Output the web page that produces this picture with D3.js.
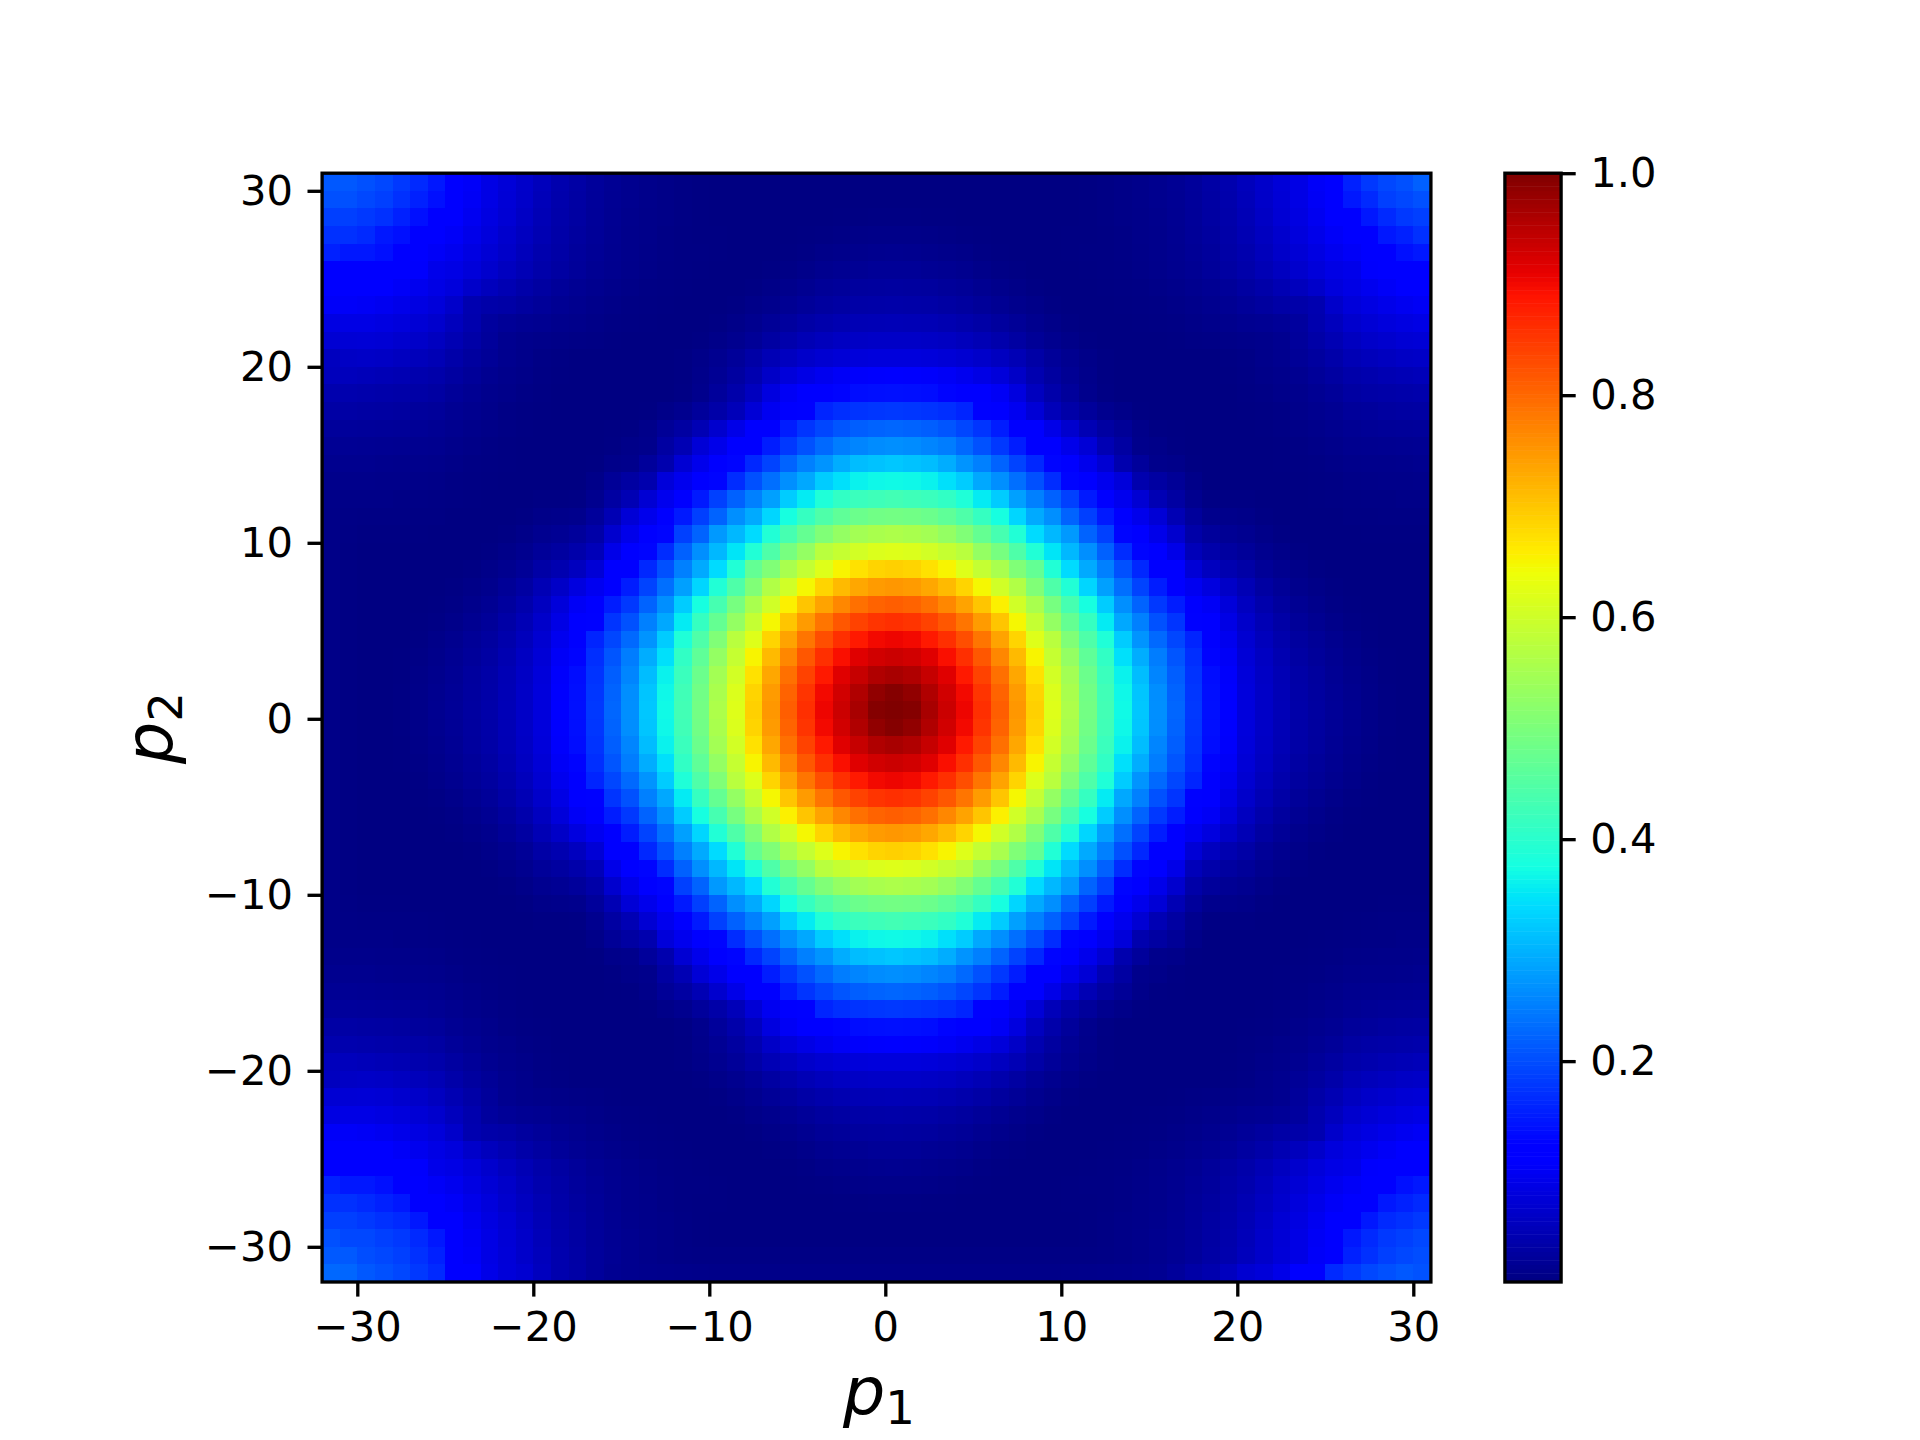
<!DOCTYPE html>
<html>
<head>
<meta charset="utf-8">
<script src="https://cdn.jsdelivr.net/npm/d3@7"></script>
<style>
  html, body { margin: 0; padding: 0; background: #fff; }
  text { font-family: "DejaVu Sans", sans-serif; fill: #000; }
</style>
</head>
<body>
<svg id="chart" width="1920" height="1440"></svg>
<script>
// tick labels
var p1Ticks = [-30, -20, -10, 0, 10, 20, 30]
var p2Ticks = [-30, -20, -10, 0, 10, 20, 30]
var barTicks = [0.2, 0.4, 0.6, 0.8, 1.0]

// first cell edge of each axis, cells are one unit wide
var p1Start = -32
var p2Top = 30

// intensity in thousandths
// each row runs p1 = -32 ... 30, first row is p2 = 30, last row is p2 = -32
var intensity = [
[211,211,203,195,180,165,148,116,105,88,76,64,52,40,32,24,18,13,10,7,5,3,2,2,2,2,2,2,2,2,2,2,2,2,2,2,2,2,2,2,2,2,2,3,5,7,10,13,18,24,32,40,52,64,76,88,105,116,156,180,195,203,219],
[203,203,195,187,172,156,140,114,102,88,75,63,50,38,31,23,17,13,10,7,5,3,2,2,2,2,2,2,2,2,2,2,2,2,2,2,2,2,2,2,2,2,2,3,5,7,10,13,17,23,31,38,50,63,75,88,102,114,148,165,187,195,203],
[187,187,180,172,156,140,120,110,98,84,73,60,47,37,30,22,16,12,9,7,5,3,2,2,2,2,2,2,2,3,3,4,4,4,3,3,2,2,2,2,2,2,2,3,5,7,9,12,16,22,30,37,47,60,73,84,98,110,120,148,165,180,187],
[172,172,165,148,140,118,116,104,92,80,67,56,44,35,27,21,15,11,9,6,4,3,3,2,2,2,2,3,4,6,7,8,8,8,7,6,4,3,2,2,2,2,3,3,4,6,9,11,15,21,27,35,44,56,67,80,92,104,116,118,148,156,172],
[156,148,148,140,118,115,104,96,85,74,63,51,40,33,25,19,14,11,8,6,4,4,3,2,2,2,3,5,8,10,12,13,14,13,12,10,8,5,3,2,2,2,3,4,4,6,8,11,14,19,25,33,40,51,63,74,85,96,104,115,118,140,148],
[122,123,122,120,116,108,92,88,78,67,56,46,37,30,23,17,13,10,7,5,4,3,2,2,2,4,6,9,13,16,18,20,20,20,18,16,13,9,6,4,2,2,2,3,4,5,7,10,13,17,23,30,37,46,56,67,78,88,92,108,116,120,122],
[115,116,114,110,104,96,88,80,64,53,44,36,29,22,17,13,10,7,5,4,3,2,2,2,4,7,11,15,20,23,26,27,28,27,26,23,20,15,11,7,4,2,2,2,3,4,5,7,10,13,17,22,29,36,44,53,64,80,88,96,104,110,114],
[105,105,102,98,92,85,78,64,42,36,33,27,22,17,13,10,7,5,4,3,2,2,2,4,8,12,17,22,27,31,34,35,36,35,34,31,27,22,17,12,8,4,2,2,2,3,4,5,7,10,13,17,22,27,33,36,42,64,78,85,92,98,102],
[85,88,88,84,80,74,67,53,40,26,20,17,15,12,10,7,5,4,3,2,2,2,4,8,13,20,26,33,38,43,46,47,48,47,46,43,38,33,26,20,13,8,4,2,2,2,3,4,5,7,10,12,15,17,20,26,40,53,67,74,80,84,88],
[72,74,75,73,68,63,56,44,34,24,14,11,9,7,6,5,3,2,2,2,2,4,8,13,20,30,38,46,52,57,60,62,62,62,60,57,52,46,38,30,20,13,8,4,2,2,2,2,3,5,6,7,9,11,14,24,34,44,56,63,68,73,75],
[55,60,62,60,56,51,46,36,27,20,13,10,6,4,2,2,2,2,2,2,4,8,14,22,33,46,56,64,70,75,78,80,80,80,78,75,70,64,56,46,33,22,14,8,4,2,2,2,2,2,2,4,6,10,13,20,27,36,46,51,56,60,62],
[52,52,50,47,44,40,37,29,22,15,11,8,5,3,2,2,2,2,2,2,4,10,18,28,42,62,78,88,96,103,107,109,110,109,107,103,96,88,78,62,42,28,18,10,4,2,2,2,2,2,2,3,5,8,11,15,22,29,37,40,44,47,50],
[40,40,38,37,35,33,30,22,17,12,9,6,4,2,2,2,2,2,2,2,5,12,24,37,55,82,102,112,120,128,137,139,140,139,137,128,120,112,102,82,55,37,24,12,5,2,2,2,2,2,2,2,4,6,9,12,17,22,30,33,35,37,38],
[32,32,31,30,28,25,23,17,13,10,6,4,3,2,2,2,2,2,3,8,13,24,35,50,75,98,115,126,160,170,175,178,180,178,175,170,160,126,115,98,75,50,35,24,13,8,3,2,2,2,2,2,3,4,6,10,13,17,23,25,28,30,31],
[24,24,23,22,21,19,17,13,10,7,5,3,2,2,2,2,3,4,9,20,30,45,68,90,110,119,152,176,194,208,217,222,225,222,217,208,194,176,152,119,110,90,68,45,30,20,9,4,3,2,2,2,2,3,5,7,10,13,17,19,21,22,23],
[18,18,17,16,15,14,13,10,7,5,3,2,2,2,2,2,4,8,11,30,45,75,92,112,120,152,180,204,228,248,255,262,265,262,255,248,228,204,180,152,120,112,92,75,45,30,11,8,4,2,2,2,2,2,3,5,7,10,13,14,15,16,17],
[13,13,13,12,11,11,10,7,5,4,3,2,2,2,2,3,9,11,24,40,72,94,112,129,163,191,222,250,270,295,310,315,320,315,310,295,270,250,222,191,163,129,112,94,72,40,24,11,9,3,2,2,2,2,3,4,5,7,10,11,11,12,13],
[10,10,10,9,9,8,7,5,4,3,2,2,2,2,2,8,20,30,40,78,95,110,129,168,203,234,265,290,325,345,362,368,370,368,362,345,325,290,265,234,203,168,129,110,95,78,40,30,20,8,2,2,2,2,2,3,4,5,7,8,9,9,10],
[8,7,7,7,6,6,5,4,3,2,2,2,4,4,5,13,30,45,72,95,115,150,188,220,250,282,325,355,388,410,420,425,430,425,420,410,388,355,325,282,250,220,188,150,115,95,72,45,30,13,5,4,4,2,2,2,3,4,5,6,6,7,7],
[7,6,5,5,5,4,4,2,2,2,2,4,8,10,12,24,45,75,94,110,150,187,222,265,292,335,378,415,445,465,480,487,490,487,480,465,445,415,378,335,292,265,222,187,150,110,94,75,45,24,12,10,8,4,2,2,2,2,4,4,5,5,5],
[7,5,3,3,3,3,2,2,2,2,4,8,14,18,24,35,68,92,112,129,188,222,275,305,340,390,435,472,505,530,548,556,560,556,548,530,505,472,435,390,340,305,275,222,188,129,112,92,68,35,24,18,14,8,4,2,2,2,2,3,3,3,3],
[7,4,2,2,2,2,2,2,2,4,8,13,22,28,37,50,90,112,129,168,220,265,305,350,390,445,495,530,575,590,605,616,620,616,605,590,575,530,495,445,390,350,305,265,220,168,129,112,90,50,37,28,22,13,8,4,2,2,2,2,2,2,2],
[7,4,2,2,2,2,2,2,4,8,13,20,33,42,55,75,110,120,163,203,250,292,340,390,470,505,555,588,620,652,672,686,690,686,672,652,620,588,555,505,470,390,340,292,250,203,163,120,110,75,55,42,33,20,13,8,4,2,2,2,2,2,2],
[7,4,2,2,2,2,2,4,7,12,20,30,46,62,82,98,119,152,191,234,282,335,390,445,505,565,603,648,686,713,733,746,750,746,733,713,686,648,603,565,505,445,390,335,282,234,191,152,119,98,82,62,46,30,20,12,7,4,2,2,2,2,2],
[7,4,2,2,2,2,3,6,11,17,26,38,56,78,102,115,152,180,222,265,325,378,435,495,555,603,656,701,737,767,791,805,810,805,791,767,737,701,656,603,555,495,435,378,325,265,222,180,152,115,102,78,56,38,26,17,11,6,3,2,2,2,2],
[7,4,2,2,2,3,5,9,15,22,33,46,64,88,112,126,176,204,250,290,355,415,472,530,588,648,701,746,786,818,840,855,860,855,840,818,786,746,701,648,588,530,472,415,355,290,250,204,176,126,112,88,64,46,33,22,15,9,5,3,2,2,2],
[7,4,2,2,2,4,8,13,20,27,38,52,70,96,120,160,194,228,270,325,388,445,505,575,620,686,737,786,827,860,884,900,905,900,884,860,827,786,737,686,620,575,505,445,388,325,270,228,194,160,120,96,70,52,38,27,20,13,8,4,2,2,2],
[7,4,2,2,3,6,10,16,23,31,43,57,75,103,128,170,208,248,295,345,410,465,530,590,652,713,767,818,860,894,917,930,935,930,917,894,860,818,767,713,652,590,530,465,410,345,295,248,208,170,128,103,75,57,43,31,23,16,10,6,3,2,2],
[7,4,2,2,3,7,12,18,26,34,46,60,78,107,137,175,217,255,310,362,420,480,548,605,672,733,791,840,884,917,939,958,965,958,939,917,884,840,791,733,672,605,548,480,420,362,310,255,217,175,137,107,78,60,46,34,26,18,12,7,3,2,2],
[7,4,2,2,4,8,13,19,27,35,47,62,80,109,139,178,222,264,318,368,428,487,556,616,686,746,805,855,900,930,958,985,995,985,958,930,900,855,805,746,686,616,556,487,428,368,318,264,222,178,139,109,80,62,47,35,27,19,13,8,4,2,2],
[7,4,2,2,4,8,14,20,28,36,48,62,80,110,140,180,225,265,320,370,430,490,560,620,690,750,810,860,905,935,965,995,1000,995,965,935,905,860,810,750,690,620,560,490,430,370,320,265,225,180,140,110,80,62,48,36,28,20,14,8,4,2,2],
[7,4,2,2,4,8,13,19,27,35,47,62,80,109,139,178,222,264,318,368,428,487,556,616,686,746,805,855,900,930,958,985,995,985,958,930,900,855,805,746,686,616,556,487,428,368,318,264,222,178,139,109,80,62,47,35,27,19,13,8,4,2,2],
[7,4,2,2,3,7,12,18,26,34,46,60,78,107,137,175,217,255,310,362,420,480,548,605,672,733,791,840,884,917,939,958,965,958,939,917,884,840,791,733,672,605,548,480,420,362,310,255,217,175,137,107,78,60,46,34,26,18,12,7,3,2,2],
[7,4,2,2,3,6,10,16,23,31,43,57,75,103,128,170,208,248,295,345,410,465,530,590,652,713,767,818,860,894,917,930,935,930,917,894,860,818,767,713,652,590,530,465,410,345,295,248,208,170,128,103,75,57,43,31,23,16,10,6,3,2,2],
[7,4,2,2,2,4,8,13,20,27,38,52,70,96,120,160,194,228,270,325,388,445,505,575,620,686,737,786,827,860,884,900,905,900,884,860,827,786,737,686,620,575,505,445,388,325,270,228,194,160,120,96,70,52,38,27,20,13,8,4,2,2,2],
[7,4,2,2,2,3,5,9,15,22,33,46,64,88,112,126,176,204,250,290,355,415,472,530,588,648,701,746,786,818,840,855,860,855,840,818,786,746,701,648,588,530,472,415,355,290,250,204,176,126,112,88,64,46,33,22,15,9,5,3,2,2,2],
[7,4,2,2,2,2,3,6,11,17,26,38,56,78,102,115,152,180,222,265,325,378,435,495,555,603,656,701,737,767,791,805,810,805,791,767,737,701,656,603,555,495,435,378,325,265,222,180,152,115,102,78,56,38,26,17,11,6,3,2,2,2,2],
[7,4,2,2,2,2,2,4,7,12,20,30,46,62,82,98,119,152,191,234,282,335,390,445,505,565,603,648,686,713,733,746,750,746,733,713,686,648,603,565,505,445,390,335,282,234,191,152,119,98,82,62,46,30,20,12,7,4,2,2,2,2,2],
[7,4,2,2,2,2,2,2,4,8,13,20,33,42,55,75,110,120,163,203,250,292,340,390,470,505,555,588,620,652,672,686,690,686,672,652,620,588,555,505,470,390,340,292,250,203,163,120,110,75,55,42,33,20,13,8,4,2,2,2,2,2,2],
[7,4,2,2,2,2,2,2,2,4,8,13,22,28,37,50,90,112,129,168,220,265,305,350,390,445,495,530,575,590,605,616,620,616,605,590,575,530,495,445,390,350,305,265,220,168,129,112,90,50,37,28,22,13,8,4,2,2,2,2,2,2,2],
[7,4,2,2,2,2,2,2,2,2,4,8,14,18,24,35,68,92,112,129,188,222,275,305,340,390,435,472,505,530,548,556,560,556,548,530,505,472,435,390,340,305,275,222,188,129,112,92,68,35,24,18,14,8,4,2,2,2,2,2,2,2,2],
[7,5,3,3,3,2,2,2,2,2,2,4,8,10,12,24,45,75,94,110,150,187,222,265,292,335,378,415,445,465,480,487,490,487,480,465,445,415,378,335,292,265,222,187,150,110,94,75,45,24,12,10,8,4,2,2,2,2,2,2,3,3,3],
[7,6,5,5,5,4,3,2,2,2,2,2,4,4,5,13,30,45,72,95,115,150,188,220,250,282,325,355,388,410,420,425,430,425,420,410,388,355,325,282,250,220,188,150,115,95,72,45,30,13,5,4,4,2,2,2,2,2,3,4,5,5,5],
[8,7,7,7,6,6,5,4,3,2,2,2,2,2,2,8,20,30,40,78,95,110,129,168,203,234,265,290,325,345,362,368,370,368,362,345,325,290,265,234,203,168,129,110,95,78,40,30,20,8,2,2,2,2,2,2,3,4,5,6,6,7,7],
[10,10,10,9,9,8,7,5,4,3,2,2,2,2,2,3,9,11,24,40,72,94,112,129,163,191,222,250,270,295,310,315,320,315,310,295,270,250,222,191,163,129,112,94,72,40,24,11,9,3,2,2,2,2,2,3,4,5,7,8,9,9,10],
[13,13,13,12,11,11,10,7,5,4,3,2,2,2,2,2,4,8,11,30,45,75,92,112,120,152,180,204,228,248,255,262,265,262,255,248,228,204,180,152,120,112,92,75,45,30,11,8,4,2,2,2,2,2,3,4,5,7,10,11,11,12,13],
[18,18,17,16,15,14,13,10,7,5,3,2,2,2,2,2,3,4,9,20,30,45,68,90,110,119,152,176,194,208,217,222,225,222,217,208,194,176,152,119,110,90,68,45,30,20,9,4,3,2,2,2,2,2,3,5,7,10,13,14,15,16,17],
[24,24,23,22,21,19,17,13,10,7,5,3,2,2,2,2,2,2,3,8,13,24,35,50,75,98,115,126,160,170,175,178,180,178,175,170,160,126,115,98,75,50,35,24,13,8,3,2,2,2,2,2,2,3,5,7,10,13,17,19,21,22,23],
[32,32,31,30,28,25,23,17,13,10,6,4,3,2,2,2,2,2,2,2,5,12,24,37,55,82,102,112,120,128,137,139,140,139,137,128,120,112,102,82,55,37,24,12,5,2,2,2,2,2,2,2,3,4,6,10,13,17,23,25,28,30,31],
[40,40,38,37,35,33,30,22,17,12,9,6,4,2,2,2,2,2,2,2,4,10,18,28,42,62,78,88,96,103,107,109,110,109,107,103,96,88,78,62,42,28,18,10,4,2,2,2,2,2,2,2,4,6,9,12,17,22,30,33,35,37,38],
[52,52,50,47,44,40,37,29,22,15,11,8,5,3,2,2,2,2,2,2,4,8,14,22,33,46,56,64,70,75,78,80,80,80,78,75,70,64,56,46,33,22,14,8,4,2,2,2,2,2,2,3,5,8,11,15,22,29,37,40,44,47,50],
[55,60,62,60,56,51,46,36,27,20,13,10,6,4,2,2,2,2,2,2,2,4,8,13,20,30,38,46,52,57,60,62,62,62,60,57,52,46,38,30,20,13,8,4,2,2,2,2,2,2,2,4,6,10,13,20,27,36,46,51,56,60,62],
[72,74,75,73,68,63,56,44,34,24,14,11,9,7,6,5,3,2,2,2,2,2,4,8,13,20,26,33,38,43,46,47,48,47,46,43,38,33,26,20,13,8,4,2,2,2,2,2,3,5,6,7,9,11,14,24,34,44,56,63,68,73,75],
[85,88,88,84,80,74,67,53,40,26,20,17,15,12,10,7,5,4,3,2,2,2,2,4,8,12,17,22,27,31,34,35,36,35,34,31,27,22,17,12,8,4,2,2,2,2,3,4,5,7,10,12,15,17,20,26,40,53,67,74,80,84,88],
[105,105,102,98,92,85,78,64,42,36,33,27,22,17,13,10,7,5,4,3,2,2,2,2,4,7,11,15,20,23,26,27,28,27,26,23,20,15,11,7,4,2,2,2,2,3,4,5,7,10,13,17,22,27,33,36,42,64,78,85,92,98,102],
[115,116,114,110,104,96,88,80,64,53,44,36,29,22,17,13,10,7,5,4,3,2,2,2,2,4,6,9,13,16,18,20,20,20,18,16,13,9,6,4,2,2,2,2,3,4,5,7,10,13,17,22,29,36,44,53,64,80,88,96,104,110,114],
[122,123,122,120,116,108,92,88,78,67,56,46,37,30,23,17,13,10,7,5,4,3,2,2,2,2,3,5,8,10,12,13,14,13,12,10,8,5,3,2,2,2,2,3,4,5,7,10,13,17,23,30,37,46,56,67,78,88,92,108,116,120,122],
[156,148,148,140,118,115,104,96,85,74,63,51,40,33,25,19,14,11,8,6,4,4,3,2,2,2,2,3,4,6,7,8,8,8,7,6,4,3,2,2,2,2,3,4,4,6,8,11,14,19,25,33,40,51,63,74,85,96,104,115,118,140,148],
[172,172,165,156,148,118,116,104,92,80,67,56,44,35,27,21,15,11,9,6,4,3,3,2,2,2,2,2,2,3,3,4,4,4,3,3,2,2,2,2,2,2,3,3,4,6,9,11,15,21,27,35,44,56,67,80,92,104,116,118,148,156,165],
[187,187,180,172,165,148,120,110,98,84,73,60,47,37,30,22,16,12,9,7,5,3,2,2,2,2,2,2,2,2,2,2,2,2,2,2,2,2,2,2,2,2,2,3,5,7,9,12,16,22,30,37,47,60,73,84,98,110,120,148,165,172,180],
[203,195,195,187,180,165,148,114,102,88,75,63,50,38,31,23,17,13,10,7,5,3,2,2,2,2,2,2,2,2,2,2,2,2,2,2,2,2,2,2,2,2,2,3,5,7,10,13,17,23,31,38,50,63,75,88,102,114,148,165,180,187,195],
[212,212,200,195,187,172,156,116,105,88,76,64,52,40,32,24,18,13,10,7,6,5,5,5,5,5,5,5,5,5,5,5,5,5,5,5,5,5,5,5,5,5,5,5,6,7,10,13,18,24,32,40,52,64,76,88,105,116,156,172,187,195,200],
[227,225,211,203,195,180,165,118,115,90,77,70,55,40,33,24,16,13,12,11,10,9,8,8,8,8,8,8,8,8,8,8,8,8,8,8,8,8,8,8,8,8,9,10,11,12,13,16,24,33,40,55,70,77,90,115,118,165,180,195,203,211,205]
]

var margin = { left: 322.1, right: 489.1, top: 173.2, bottom: 158 }
var width = 1920
var height = 1440
var tickLen = 14.6
var lineW = 3.33
var tickFont = 41.67
var labelFont = 66.7

// matplotlib jet, channel by channel
var jetR = d3.scaleLinear().domain([0, 0.35, 0.66, 0.89, 1]).range([0, 0, 1, 1, 0.5])
var jetG = d3.scaleLinear().domain([0, 0.125, 0.375, 0.64, 0.91, 1]).range([0, 0, 1, 1, 0, 0])
var jetB = d3.scaleLinear().domain([0, 0.11, 0.34, 0.65, 1]).range([0.5, 1, 1, 0, 0])

function jet(v) {
	return d3.rgb(jetR(v) * 255, jetG(v) * 255, jetB(v) * 255).formatRgb()
}

var svg = d3.select("#chart")

var x = d3.scaleLinear().domain([-32, 31]).range([margin.left, width - margin.right])
var y = d3.scaleLinear().domain([-32, 31]).range([height - margin.bottom, margin.top])

// heatmap cells
var rows = svg.append("g").selectAll("g")
	.data(intensity)
	.enter().append("g")

rows.selectAll("rect")
	.data(function(row, i) {
		return row.map(function(v, j) {
			return { p1: p1Start + j, p2: p2Top - i, v: v / 1000 }
		})
	})
	.enter().append("rect")
	.attr("x", function(d) { return x(d.p1) })
	.attr("y", function(d) { return y(d.p2 + 1) })
	.attr("width", function(d) { return x(d.p1 + 1) - x(d.p1) })
	.attr("height", function(d) { return y(d.p2) - y(d.p2 + 1) })
	.attr("shape-rendering", "crispEdges")
	.attr("fill", function(d) { return jet(d.v) })

function styleAxis(g) {
	g.select(".domain").remove()
	g.selectAll("line").attr("stroke", "#000").attr("stroke-width", lineW)
	g.selectAll("text").attr("font-size", tickFont).attr("font-family", "DejaVu Sans").attr("fill", "#000")
}

svg.append("g")
	.attr("transform", "translate(0," + (height - margin.bottom) + ")")
	.call(d3.axisBottom(x).tickValues(p1Ticks).tickSize(tickLen).tickPadding(14.6))
	.call(styleAxis)

svg.append("g")
	.attr("transform", "translate(" + margin.left + ",0)")
	.call(d3.axisLeft(y).tickValues(p2Ticks).tickSize(tickLen).tickPadding(14.6))
	.call(styleAxis)

// frame
svg.append("rect")
	.attr("x", x(-32))
	.attr("y", y(31))
	.attr("width", x(31) - x(-32))
	.attr("height", y(-32) - y(31))
	.attr("fill", "none")
	.attr("stroke", "#000")
	.attr("stroke-width", lineW)

// colorbar
var barLeft = 1504.9
var barRight = 1561.1
var bar = d3.scaleLinear().domain([0.001, 1]).range([height - margin.bottom, margin.top])
var barSteps = d3.range(256).map(function(i) { return 0.001 + (i / 256) * 0.999 })
var barStep = 0.999 / 256

svg.append("g").selectAll("rect")
	.data(barSteps)
	.enter().append("rect")
	.attr("x", barLeft)
	.attr("width", barRight - barLeft)
	.attr("y", function(d) { return bar(d + barStep) })
	.attr("height", function(d) { return bar(d) - bar(d + barStep) + 0.5 })
	.attr("fill", function(d) { return jet(d + barStep / 2) })

svg.append("g")
	.attr("transform", "translate(" + barRight + ",0)")
	.call(d3.axisRight(bar).tickValues(barTicks).tickFormat(d3.format(".1f")).tickSize(tickLen).tickPadding(14.6))
	.call(styleAxis)

svg.append("rect")
	.attr("x", barLeft)
	.attr("y", margin.top)
	.attr("width", barRight - barLeft)
	.attr("height", height - margin.bottom - margin.top)
	.attr("fill", "none")
	.attr("stroke", "#000")
	.attr("stroke-width", lineW)

// axis labels, p with a subscript
function axisLabel(g, sub) {
	var t = g.append("text").attr("font-size", labelFont)
	t.append("tspan").attr("font-style", "italic").text("p")
	t.append("tspan").attr("font-size", labelFont * 0.7).attr("dy", 10).text(sub)
}

axisLabel(svg.append("g").attr("transform", "translate(843,1414)"), "1")
axisLabel(svg.append("g").attr("transform", "translate(172,764) rotate(-90)"), "2")
</script>
</body>
</html>
